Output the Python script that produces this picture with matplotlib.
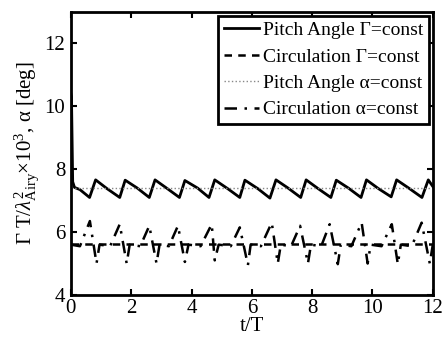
import matplotlib
matplotlib.use("Agg")
import matplotlib.pyplot as plt

plt.rcParams['font.family'] = ['Liberation Serif', 'DejaVu Serif']
plt.rcParams['mathtext.fontset'] = 'custom'
plt.rcParams['mathtext.rm'] = 'Liberation Serif'
plt.rcParams['mathtext.it'] = 'Liberation Serif:italic'

# Pitch angle, Gamma = const (sawtooth)
t_pitch_gam = [0.0, 0.02, 0.06, 0.12, 0.3, 0.62, 0.82, 1.2, 1.62, 1.8, 2.2, 2.6, 2.79, 3.2,
               3.6, 3.78, 4.2, 4.58, 4.77, 5.2, 5.6, 5.77, 6.2, 6.6, 6.8, 7.2, 7.62,
               7.8, 8.2, 8.62, 8.8, 9.2, 9.62, 9.8, 10.2, 10.62, 10.8, 11.2, 11.64,
               11.85, 12.0]
pitch_gam = [10.4, 10.3, 7.6, 7.42, 7.35, 7.1, 7.66, 7.38, 7.1, 7.65, 7.4, 7.1, 7.66, 7.38,
             7.1, 7.64, 7.4, 7.1, 7.66, 7.38, 7.1, 7.65, 7.38, 7.08, 7.66, 7.4, 7.1,
             7.66, 7.38, 7.1, 7.65, 7.4, 7.1, 7.66, 7.38, 7.12, 7.66, 7.4, 7.1,
             7.66, 7.45]

# Circulation, Gamma = const
t_circ_gam = [0.0, 12.0]
circ_gam = [5.62, 5.62]

# Pitch angle, alpha = const
t_pitch_alp = [0.0, 12.0]
pitch_alp = [7.4, 7.4]

# Circulation, alpha = const
t_circ_alp = [0.0, 0.3, 0.63, 0.85, 0.95, 1.3, 1.62, 1.85, 1.95, 2.3, 2.6, 2.84, 2.94,
              3.25, 3.55, 3.78, 3.9, 4.3, 4.67, 4.77, 4.9, 5.3, 5.6, 5.87, 5.96, 6.3,
              6.66, 6.86, 6.96, 7.3, 7.6, 7.86, 7.96, 8.3, 8.58, 8.85, 8.95, 9.3, 9.64,
              9.84, 9.94, 10.3, 10.64, 10.84, 10.94, 11.3, 11.63, 11.9, 12.0]
circ_alp = [5.6, 5.55, 6.35, 5.0, 5.6, 5.55, 6.25, 5.0, 5.6, 5.55, 6.2, 5.0, 5.6,
            5.55, 6.2, 5.05, 5.6, 5.55, 6.25, 5.1, 5.6, 5.55, 6.15, 4.95, 5.6, 5.55,
            6.3, 5.0, 5.6, 5.55, 6.2, 5.0, 5.6, 5.55, 6.25, 4.98, 5.6, 5.55, 6.3,
            5.0, 5.6, 5.55, 6.25, 4.98, 5.6, 5.55, 6.3, 5.0, 5.6]

fig = plt.figure(figsize=(4.43, 3.41), dpi=100)
ax = fig.add_axes([0.160, 0.135, 0.817, 0.830])

ax.plot(t_pitch_gam, pitch_gam, color='black', lw=2.0, ls='-', label='Pitch Angle Γ=const')
ax.plot(t_circ_gam, circ_gam, color='black', lw=1.8, ls=(0, (3, 2.5)), label='Circulation Γ=const')
ax.plot(t_pitch_alp, pitch_alp, color='#888888', lw=1.0, ls=':', label='Pitch Angle α=const')
ax.plot(t_circ_alp, circ_alp, color='black', lw=1.8, ls=(0, (5, 3, 1, 3)), label='Circulation α=const')

ax.set_xlim(0, 12)
ax.set_ylim(4, 13)
ax.set_xticks([0, 2, 4, 6, 8, 10, 12])
ax.set_yticks([4, 6, 8, 10, 12])
ax.tick_params(direction='in', top=True, right=True, labelsize=15, length=4, width=1.5)
ax.tick_params(axis='x', pad=3)
ax.tick_params(axis='y', pad=4)
for s in ax.spines.values():
    s.set_linewidth(2)

ax.set_xlabel('t/T', fontsize=15, labelpad=-1)
ax.set_ylabel(r'$\Gamma\ \mathrm{T}/\lambda^2_{\mathrm{Airy}}{\times}10^3$, α [deg]', fontsize=15, labelpad=2)

leg = ax.legend(loc='upper right', fontsize=14, frameon=True, fancybox=False,
                edgecolor='black', framealpha=1, handlelength=1.8, handletextpad=0.2,
                borderpad=0.3, labelspacing=0.45, borderaxespad=0.2)
leg.get_frame().set_linewidth(2)

fig.savefig('out.png', dpi=100)
